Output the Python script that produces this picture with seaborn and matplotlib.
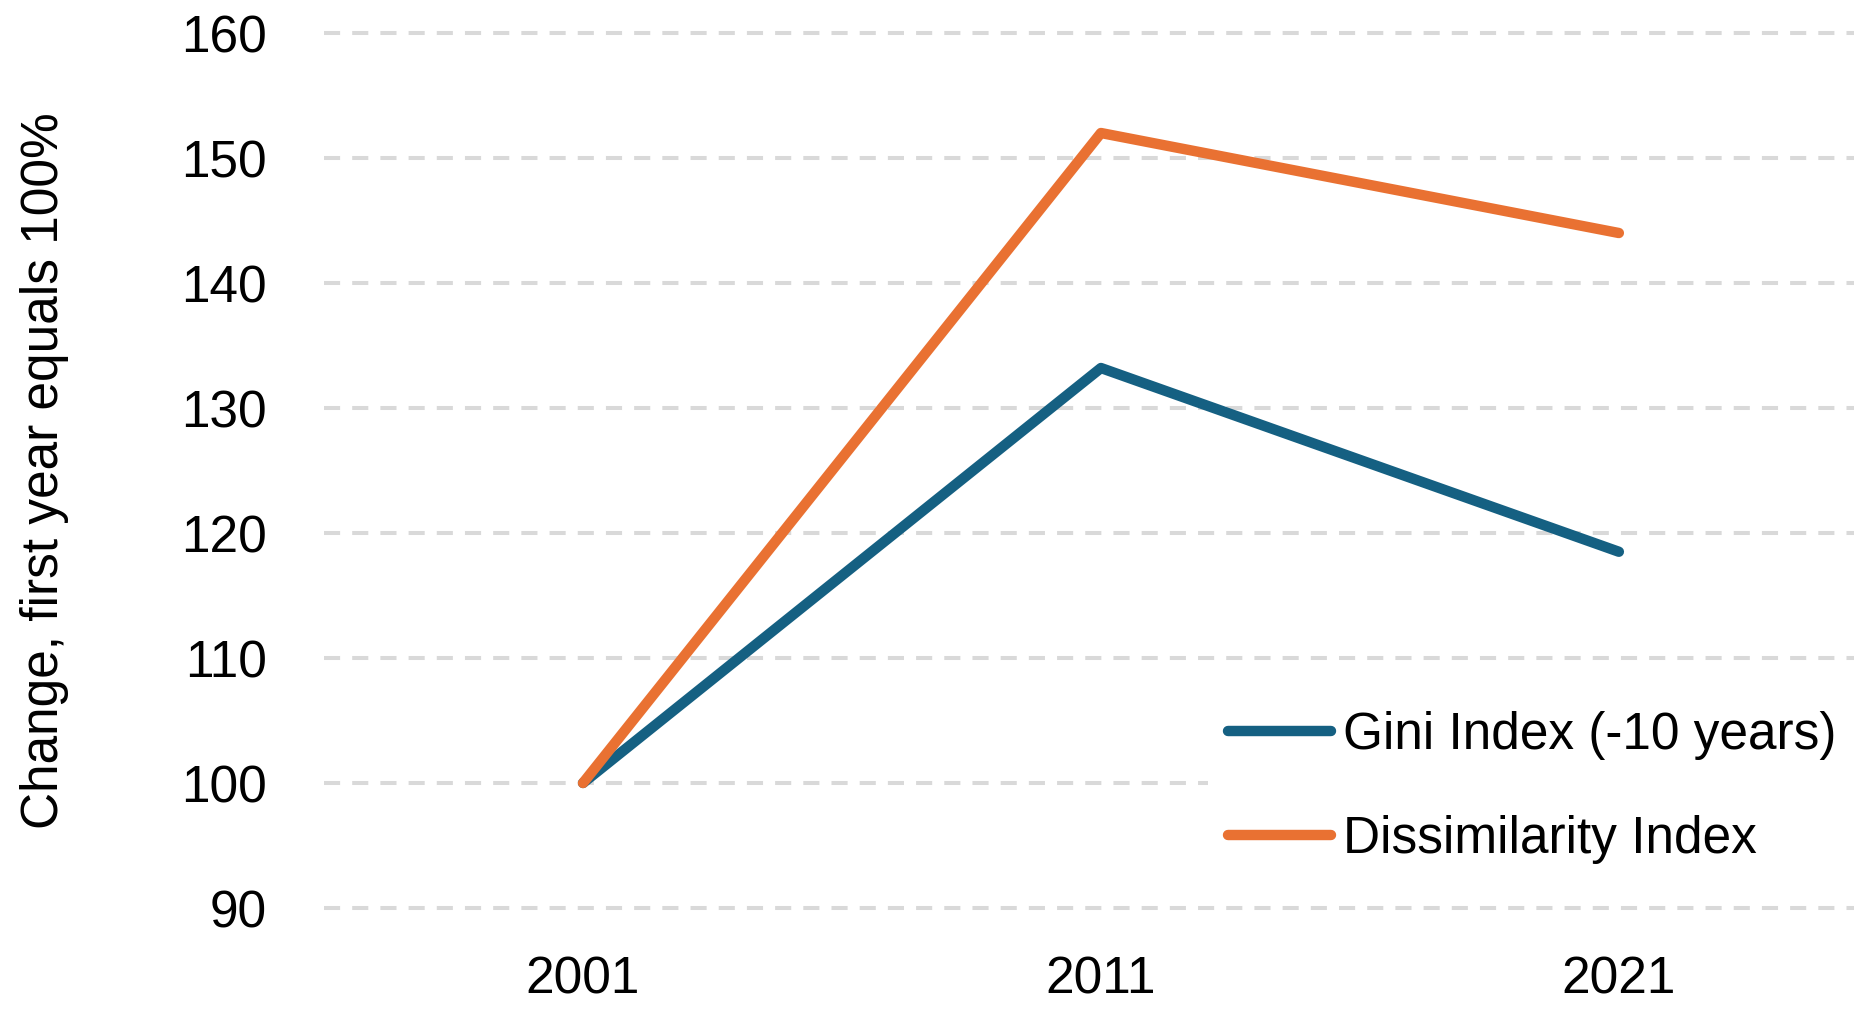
import pandas as pd
import seaborn as sns
import matplotlib.pyplot as plt

years = ["2001", "2011", "2021"]
gini = [100, 133.2, 118.5]
dissimilarity = [100, 152.0, 144.0]
series_names = ["Gini Index (-10 years)", "Dissimilarity Index"]
colors = ["#156082", "#E97132"]

df = pd.DataFrame({
    "Year": years * 2,
    "Value": gini + dissimilarity,
    "Series": [series_names[0]] * 3 + [series_names[1]] * 3,
})

sns.set_style("white")
plt.rcParams["font.family"] = ["Liberation Sans", "DejaVu Sans"]
plt.rcParams["text.color"] = "black"
plt.rcParams["axes.labelcolor"] = "black"
plt.rcParams["xtick.color"] = "black"
plt.rcParams["ytick.color"] = "black"

fig = plt.figure(figsize=(18.54, 10.10), dpi=100)
ax = fig.add_axes([0.1748, 0.0948, 0.8252, 0.8787])

sns.lineplot(
    data=df, x="Year", y="Value", hue="Series",
    palette=colors, linewidth=7.5, ax=ax, sort=False,
)
for line in ax.lines:
    line.set_solid_capstyle("round")
    line.set_solid_joinstyle("round")

ax.set_xlim(-0.5, 2.454)
ax.set_ylim(89.5, 160.5)
ax.set_yticks(range(90, 161, 10))
ax.yaxis.grid(True, color="#d9d9d9", linewidth=2.9, linestyle=(0, (4, 3)))
ax.set_axisbelow(True)
for s in ax.spines.values():
    s.set_visible(False)

ax.tick_params(axis="y", length=0, pad=41, labelsize=37, colors="black")
ax.tick_params(axis="x", length=0, pad=30, labelsize=37, colors="black")
ax.set_xlabel("")
ax.set_ylabel("Change, first year equals 100%", fontsize=37, color="black")
ax.yaxis.set_label_coords(-0.167, 0.5)

leg = ax.legend(
    loc="upper left", bbox_to_anchor=(0.5775, 0.252),
    fontsize=37, frameon=True, facecolor="white", edgecolor="none",
    framealpha=1, handlelength=2.0, handletextpad=0.23,
    labelspacing=1.06, borderpad=0.4, borderaxespad=0,
)
for t in leg.get_texts():
    t.set_color("black")
for h in leg.get_lines():
    h.set_linewidth(7.5)
    h.set_solid_capstyle("round")

plt.savefig("out.png", dpi=100)
